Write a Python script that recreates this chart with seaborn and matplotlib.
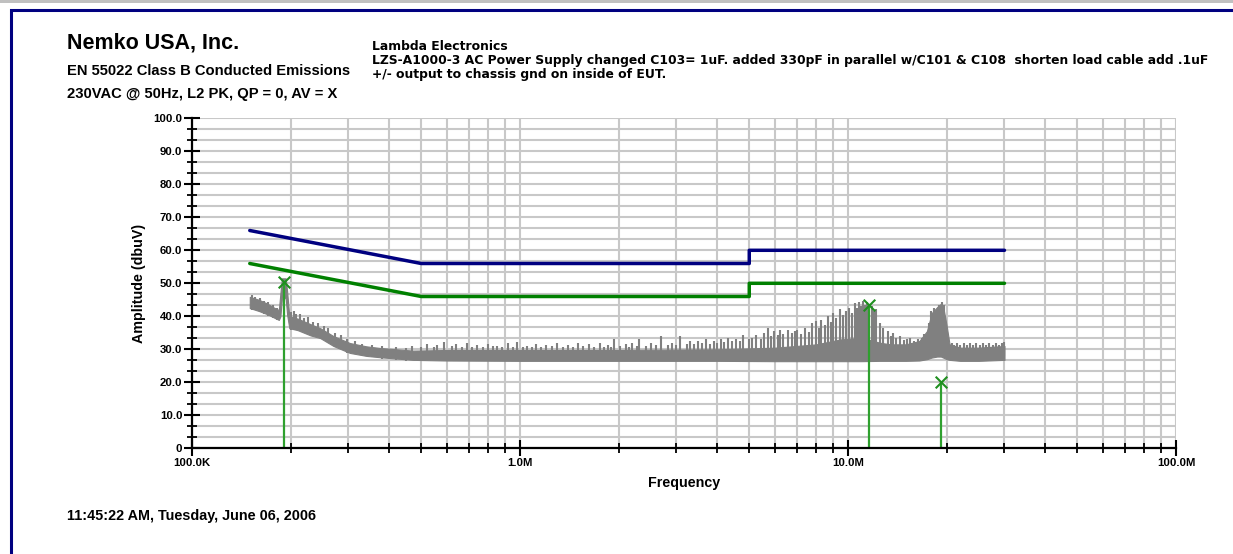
import matplotlib
matplotlib.use("Agg")
import matplotlib.pyplot as plt
from matplotlib.patches import Rectangle
from matplotlib.ticker import FixedLocator, NullFormatter
import seaborn as sns
import pandas as pd

# ---------------- data (frequency in MHz, amplitude in dBuV) ----------------
qp_limit_f = [0.15, 0.5, 5.0, 5.0, 30.0]
qp_limit_v = [66.0, 56.0, 56.0, 60.0, 60.0]
av_limit_f = [0.15, 0.5, 5.0, 5.0, 30.0]
av_limit_v = [56.0, 46.0, 46.0, 50.0, 50.0]

# measured trace: noise band envelope
env_f = [0.150, 0.160, 0.170, 0.178, 0.184, 0.186, 0.188, 0.193, 0.195, 0.198,
         0.210, 0.230, 0.246, 0.270, 0.303, 0.340, 0.374, 0.472, 0.600, 1.0,
         2.0, 4.0, 6.0, 8.0, 9.5, 11.0, 12.5, 13.5, 15.0, 16.5,
         17.4, 18.0, 18.7, 19.2, 19.5, 20.0, 20.4, 22.0, 25.0, 30.0]
env_lo = [42.5, 41.6, 40.6, 39.6, 38.9, 40.0, 45.5, 45.5, 40.5, 36.4,
          35.8, 34.2, 33.4, 31.0, 28.9, 28.0, 27.6, 26.8, 26.6, 26.5,
          26.5, 26.5, 26.4, 26.4, 26.4, 26.4, 26.5, 26.5, 26.5, 26.6,
          27.0, 27.5, 27.8, 27.8, 27.5, 27.0, 26.8, 26.5, 26.5, 26.8]
env_hi = [45.9, 45.0, 43.8, 42.6, 41.9, 47.0, 51.5, 51.5, 47.5, 40.0,
          39.3, 37.6, 36.4, 34.0, 31.9, 30.9, 30.4, 29.6, 29.8, 29.8,
          29.8, 30.0, 30.5, 31.5, 33.0, 33.5, 32.0, 31.5, 31.5, 32.5,
          35.5, 41.0, 42.8, 43.8, 43.0, 37.0, 31.5, 30.5, 30.5, 31.0]

# low-frequency jagged edges of the band (frequency, bottom, top)
early_f = [0.152, 0.156, 0.161, 0.166, 0.171, 0.176, 0.181, 0.200, 0.204, 0.208,
           0.214, 0.220, 0.226, 0.234, 0.242, 0.252, 0.260, 0.272, 0.285, 0.296,
           0.315, 0.330, 0.355, 0.380, 0.420, 0.450]
early_lo = [42.0, 42.0, 41.2, 40.8, 40.2, 39.6, 38.8, 36.0, 36.0, 35.8,
            35.5, 35.0, 34.6, 34.0, 33.6, 32.8, 32.2, 30.8, 30.0, 29.0,
            28.5, 28.0, 27.6, 27.2, 26.8, 26.6]
early_hi = [46.4, 45.8, 45.4, 44.6, 44.2, 43.4, 42.6, 41.2, 41.5, 40.6,
            40.8, 39.6, 39.8, 38.4, 38.0, 37.2, 36.4, 35.0, 34.2, 33.0,
            32.4, 31.6, 31.4, 31.0, 30.8, 30.5]

# measured trace: individual spikes above the noise floor (frequency, peak)
spike_f = [0.47, 0.50, 0.52, 0.545, 0.56, 0.585, 0.62, 0.64, 0.665, 0.69,
           0.715, 0.74, 0.77, 0.80, 0.83, 0.85, 0.88, 0.92, 0.95, 0.98,
           1.02, 1.05, 1.09, 1.12, 1.16, 1.20, 1.25, 1.30, 1.35, 1.40,
           1.45, 1.50, 1.56, 1.62, 1.68, 1.75, 1.80, 1.85, 1.90, 1.93,
           2.02, 2.10, 2.15, 2.20, 2.27, 2.31, 2.42, 2.50, 2.60, 2.69,
           2.82, 2.90, 3.00, 3.08, 3.22, 3.30, 3.40, 3.50, 3.60, 3.70,
           3.80, 3.90, 4.00, 4.10, 4.20, 4.30, 4.42, 4.55, 4.70, 4.80,
           5.00, 5.10, 5.25, 5.42, 5.55, 5.70, 5.82, 5.95, 6.10, 6.20,
           6.35, 6.56, 6.75, 6.90, 7.00, 7.20, 7.40, 7.60, 7.77, 8.00,
           8.15, 8.30, 8.50, 8.70, 8.85, 9.00, 9.20, 9.46, 9.65, 9.85,
           10.1, 10.3, 10.5, 10.65, 10.8, 10.95, 11.1, 11.3, 11.45, 11.8,
           12.0, 12.2, 12.5, 12.8, 13.2, 13.5, 13.7, 14.0, 14.4, 14.8,
           15.1, 15.5, 15.9, 16.3, 16.8, 17.1,
           17.6, 17.9, 18.3, 18.9, 19.3, 19.6, 19.8,
           20.7, 21.1, 21.5, 22.0, 22.5, 23.0, 23.5, 24.0, 24.6, 25.2,
           25.8, 26.4, 27.0, 27.6, 28.2, 28.8, 29.4, 29.95]
spike_v = [31.0, 30.6, 31.5, 30.8, 31.2, 32.2, 30.9, 31.5, 30.7, 31.8,
           30.8, 31.2, 30.6, 31.5, 30.9, 31.0, 30.7, 31.8, 30.8, 32.2,
           30.6, 31.0, 30.8, 31.5, 30.7, 31.2, 30.9, 31.8, 30.7, 31.2,
           30.8, 32.0, 30.9, 31.5, 30.7, 31.8, 30.8, 31.2, 30.6, 33.1,
           30.9, 31.5, 30.8, 31.8, 30.9, 33.1, 31.0, 32.0, 31.2, 34.0,
           31.4, 32.0, 31.3, 34.0, 31.6, 32.5, 31.5, 32.5, 31.8, 33.0,
           31.7, 32.5, 32.0, 33.0, 32.2, 33.5, 32.5, 33.0, 32.6, 34.3,
           33.0, 33.5, 34.4, 33.2, 35.0, 36.5, 34.0, 35.4, 34.2, 35.9,
           34.6, 36.0, 35.0, 35.5, 35.8, 34.5, 36.5, 35.2, 37.9, 38.6,
           36.5, 39.0, 37.5, 40.0, 38.2, 41.0, 39.5, 42.2, 40.5, 41.5,
           42.6, 41.0, 44.0, 42.5, 44.4, 43.0, 44.6, 43.5, 44.2, 43.0,
           41.5, 42.2, 38.0, 36.5, 35.6, 34.0, 35.0, 33.5, 34.0, 32.8,
           33.2, 33.4, 32.6, 33.0, 33.5, 34.5,
           38.0, 41.5, 42.5, 43.5, 44.2, 43.5, 40.0,
           32.0, 31.3, 31.8, 31.2, 32.0, 31.4, 31.8, 31.3, 32.0, 31.2,
           31.8, 31.3, 32.0, 31.4, 31.8, 31.2, 31.9, 32.2]

# marker readings
marker_f = [0.191, 11.6, 19.2]
marker_v = [50.3, 43.4, 20.2]

x_tick_vals = [0.1, 1.0, 10.0, 100.0]
x_tick_labels = ["100.0K", "1.0M", "10.0M", "100.0M"]
y_major = [0, 10, 20, 30, 40, 50, 60, 70, 80, 90, 100]
y_labels = ["0", "10.0", "20.0", "30.0", "40.0", "50.0", "60.0", "70.0", "80.0", "90.0", "100.0"]

header_left = ["Nemko USA, Inc.", "EN 55022 Class B Conducted Emissions",
               "230VAC @ 50Hz, L2 PK, QP = 0, AV = X"]
header_right = ["Lambda Electronics",
                "LZS-A1000-3 AC Power Supply changed C103= 1uF. added 330pF in parallel w/C101 & C108  shorten load cable add .1uF",
                "+/- output to chassis gnd on inside of EUT."]
footer = "11:45:22 AM, Tuesday, June 06, 2006"

# ---------------- figure ----------------
sns.set_theme(style="white")
plt.rcParams["font.family"] = ["Liberation Sans", "DejaVu Sans"]
plt.rcParams["font.weight"] = "bold"
plt.rcParams["text.color"] = "black"
plt.rcParams["axes.labelcolor"] = "black"
plt.rcParams["xtick.color"] = "black"
plt.rcParams["ytick.color"] = "black"

W, H = 1233, 554
fig = plt.figure(figsize=(W / 100, H / 100), dpi=100)
fig.patch.set_facecolor("white")

def fx(px):
    return px / W

def fy(py):
    return 1 - py / H

ax = fig.add_axes([fx(192), fy(448.3), fx(1176) - fx(192), fy(118.3) - fy(448.3)])
ax.set_xscale("log")
ax.set_xlim(0.1, 100)
ax.set_ylim(0, 100)

GRAY = "#808080"
ax.fill_between(env_f, env_lo, env_hi, color=GRAY, lw=0.8, zorder=3)
ax.vlines(early_f, early_lo, early_hi, color=GRAY, lw=1.5, zorder=3)
ax.vlines(spike_f, 28.0, spike_v, color=GRAY, lw=1.5, zorder=3)

qp = pd.DataFrame({"f": qp_limit_f, "v": qp_limit_v})
av = pd.DataFrame({"f": av_limit_f, "v": av_limit_v})
sns.lineplot(data=qp, x="f", y="v", sort=False, estimator=None, color="#000080",
             lw=2.5, ax=ax, zorder=4)
sns.lineplot(data=av, x="f", y="v", sort=False, estimator=None, color="#008000",
             lw=2.5, ax=ax, zorder=4)

ax.vlines(marker_f, 0, marker_v, color="#2ea02e", lw=1.6, zorder=5)
sns.scatterplot(x=marker_f, y=marker_v, marker="x", s=70, color="#1f8f1f",
                linewidth=1.5, ax=ax, zorder=6)

# ticks / grid
ax.xaxis.set_major_locator(FixedLocator(x_tick_vals))
x_minor = [m * d for d in (0.1, 1.0, 10.0) for m in range(2, 10)]
ax.xaxis.set_minor_locator(FixedLocator(x_minor))
ax.xaxis.set_minor_formatter(NullFormatter())
ax.set_xticklabels(x_tick_labels)
ax.yaxis.set_major_locator(FixedLocator(y_major))
ax.yaxis.set_minor_locator(FixedLocator([i * 10 / 3 for i in range(31) if i % 3 != 0]))
ax.set_yticklabels(y_labels)

ax.grid(which="both", color="#c8c8c8", lw=1.5, zorder=0)
ax.set_axisbelow(True)
for s in ("top", "right"):
    ax.spines[s].set_visible(False)
for s in ("left", "bottom"):
    ax.spines[s].set_color("black")
    ax.spines[s].set_linewidth(1.6)
    ax.spines[s].set_zorder(7)

ax.tick_params(axis="both", which="both", bottom=True, left=True, top=False, right=False)
ax.tick_params(axis="both", which="major", direction="inout", length=12, width=1.5,
               color="black", labelcolor="black", labelsize=8.2, pad=1)
ax.tick_params(axis="both", which="minor", direction="inout", length=7, width=1.3,
               color="black")
for lab in ax.get_xticklabels() + ax.get_yticklabels():
    lab.set_fontweight("bold")

ax.set_xlabel("Frequency", fontsize=10.3, fontweight="bold", color="black")
ax.set_ylabel("Amplitude (dbuV)", fontsize=10.3, fontweight="bold", color="black")
ax.xaxis.set_label_coords(0.5, (448.3 - 476) / 330.0)
ax.yaxis.set_label_coords((146 - 192) / 984.0, 0.5)

# headers
fig.text(fx(67), fy(49), header_left[0], fontsize=15.5, fontweight="bold", va="baseline", color="black")
fig.text(fx(67), fy(75), header_left[1], fontsize=10.6, fontweight="bold", va="baseline", color="black")
fig.text(fx(67), fy(98), header_left[2], fontsize=10.6, fontweight="bold", va="baseline", color="black")
for t, yb in zip(header_right, (50, 64, 78)):
    fig.text(fx(372), fy(yb), t, fontsize=8.95, fontweight="bold", va="baseline",
             family=["DejaVu Sans"], color="black")
fig.text(fx(67), fy(520), footer, fontsize=10.4, fontweight="bold", va="baseline", color="black")

# frame
fig.add_artist(Rectangle((0, fy(3)), 1, fy(0) - fy(3), transform=fig.transFigure,
                         facecolor="#c0c0c0", edgecolor="none"))
fig.add_artist(Rectangle((fx(11), -0.1), 1.05, fy(10) + 0.1, transform=fig.transFigure,
                         fill=False, edgecolor="#000080", lw=2.2))

fig.savefig("out.png", dpi=100, facecolor="white")
